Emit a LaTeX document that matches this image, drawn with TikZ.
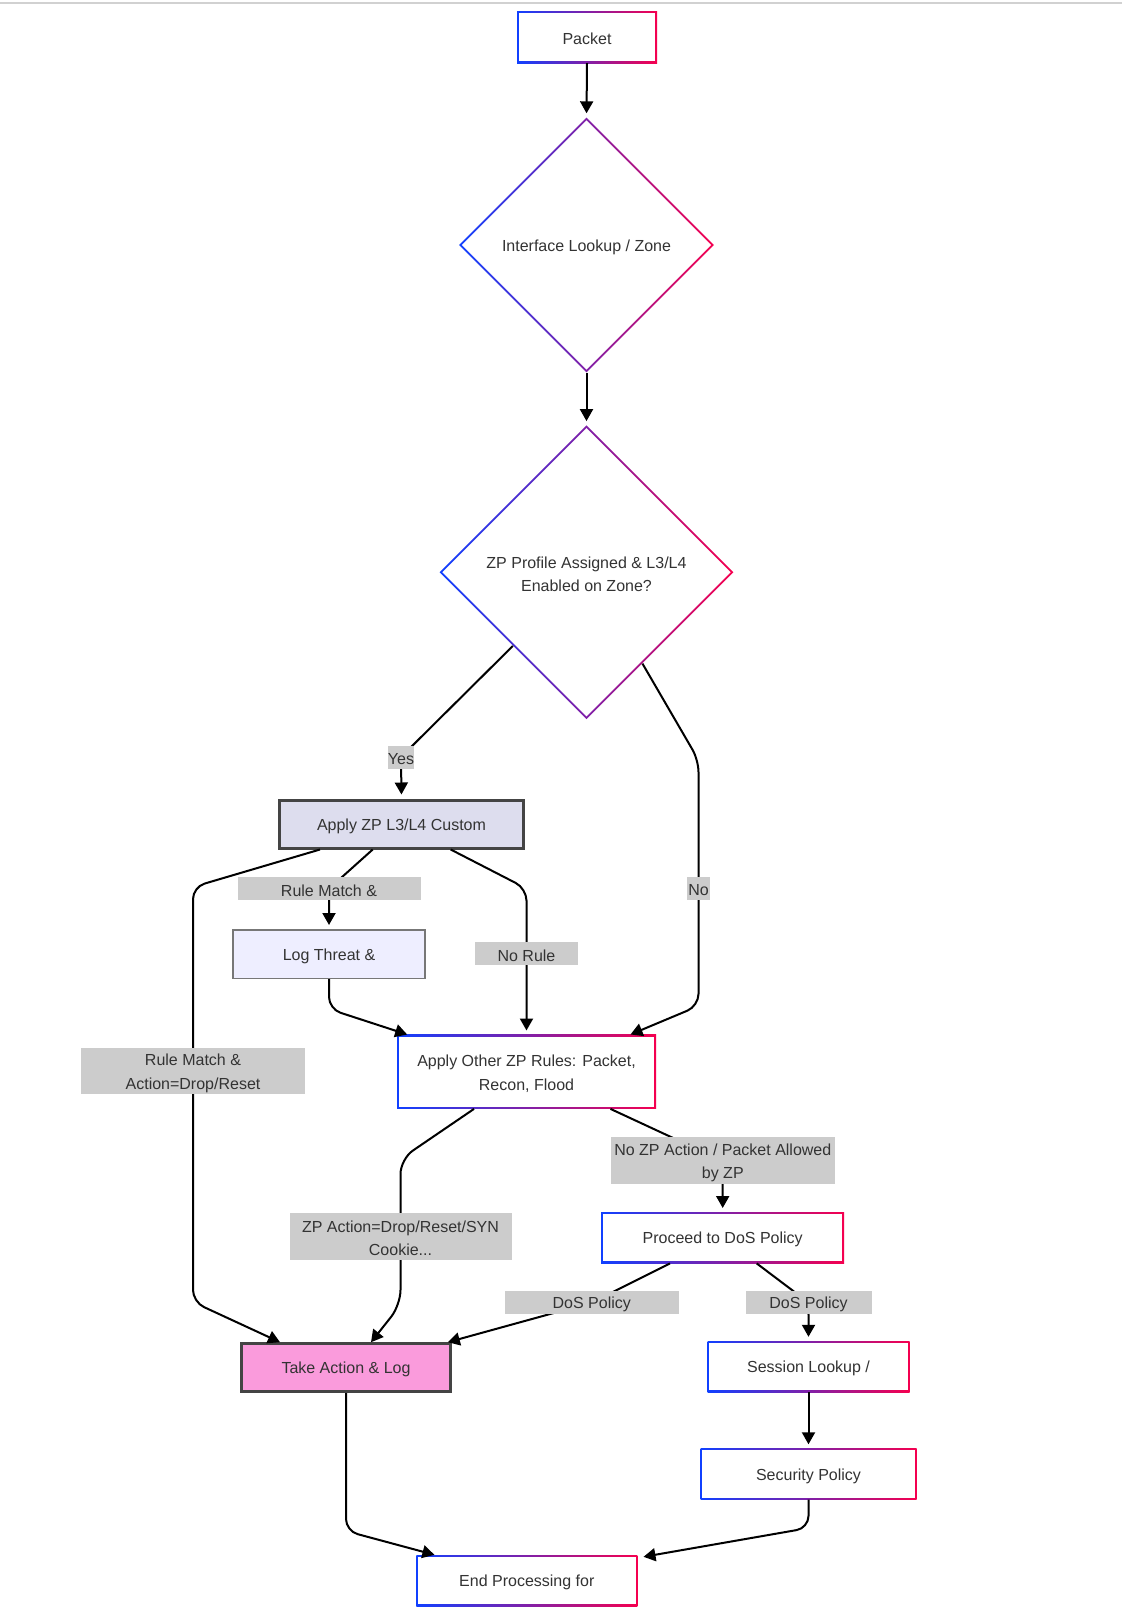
\documentclass[tikz,border=0pt]{standalone}
\usepackage{fontspec}
\setmainfont{Liberation Sans}
\usetikzlibrary{shapes.geometric,arrows.meta,calc}
\definecolor{gL}{HTML}{1040FF}
\definecolor{gM}{HTML}{8020A8}
\definecolor{gR}{HTML}{F5004F}
\definecolor{txt}{HTML}{333333}
\definecolor{lblgray}{HTML}{CCCCCC}
\definecolor{azfill}{HTML}{DDDDEE}
\definecolor{ltfill}{HTML}{EEEEFF}
\definecolor{tafill}{HTML}{FA9BDC}
\definecolor{darkborder}{HTML}{444444}
\definecolor{ltborder}{HTML}{777777}
\newcommand\nodetext[2]{\node[yshift=-2pt] at (#1) {#2};}
\newcommand\gradbox[6]{%
  \node[gshade, minimum width=#4pt, minimum height=#5pt] (#1) at (#2,#3) {};
  \fill[white] ([shift={(2pt,-2pt)}]#1.north west) rectangle ([shift={(-2pt,2pt)}]#1.south east);
  \nodetext{#1}{#6}
}
\newcommand\graddiamond[6]{%
  \node[diamond, gshade, minimum width=#4pt, minimum height=#4pt] (#1) at (#2,#3) {};
  \node[diamond, fill=white, minimum width=#5pt, minimum height=#5pt] at (#1) {};
  \nodetext{#1}{#6}
}
\newcommand\edgelabel[6]{%
  \node[lbl, minimum width=#4pt, minimum height=#5pt] (#1) at (#2,#3) {};
  \nodetext{#1}{#6}
}
\begin{document}
\begin{tikzpicture}[x=1pt,y=-1pt,
  every node/.style={font=\fontsize{16}{23.7}\selectfont, text=txt, align=center, inner sep=0pt},
  gshade/.style={shade, left color=gL, right color=gR, middle color=gM},
  lbl/.style={fill=lblgray, font=\fontsize{16}{22.5}\selectfont},
  conn/.style={draw=black, line width=2pt, -{Triangle[length=12pt,width=13pt]}, rounded corners=12pt},
]
\useasboundingbox (0,0) rectangle (1122,1615);
\fill[white] (0,0) rectangle (1122,1615);
\draw[line width=2pt, color=black!18] (0,2.5) -- (1122,2.5);

% gradient-bordered nodes
\gradbox{packet}{587}{37}{140}{52}{Packet}
\graddiamond{d1}{586.5}{245}{255}{249.3}{Interface Lookup / Zone}
\graddiamond{d2}{586.5}{572.3}{294}{288.3}{ZP Profile Assigned \& L3/L4\\Enabled on Zone?}
\gradbox{ao}{526.5}{1071.7}{259}{74}{Apply Other ZP Rules: Packet,\\Recon, Flood}
\gradbox{pr}{722.7}{1237.7}{243}{51}{Proceed to DoS Policy}
\gradbox{sl}{808.5}{1366.5}{202}{51}{Session Lookup /}
\gradbox{sp}{808.5}{1474}{216}{51}{Security Policy}
\gradbox{en}{526.8}{1580.5}{221}{51}{End Processing for}

% filled nodes
\node[draw=darkborder, line width=3pt, fill=azfill, minimum width=244pt, minimum height=48pt] (az) at (401.5,824) {};
\nodetext{az}{Apply ZP L3/L4 Custom}
\node[draw=ltborder, line width=1.5pt, fill=ltfill, minimum width=192pt, minimum height=48.5pt] (lt) at (329,954) {};
\nodetext{lt}{Log Threat \&}
\node[draw=darkborder, line width=3pt, fill=tafill, minimum width=209pt, minimum height=48pt] (ta) at (346,1367.7) {};
\nodetext{ta}{Take Action \& Log}

% connectors
\draw[conn, shorten >=4pt] (packet.south) -- (d1.north);
\draw[conn, shorten >=4pt] (d1.south) -- (d2.north);
\draw[conn, shorten >=4pt] (d2.south west) -- (401,757) -- (az.north);
\draw[conn] ($(d2.south)!0.38!(d2.east)$) -- (698.5,760) -- (698.5,1006) -- ([xshift=104pt]ao.north);
\draw[conn] ([xshift=-81.5pt]az.south) -- (193,887) -- (193,1302) -- ([xshift=-66pt]ta.north);
\draw[conn, shorten >=4pt] ([xshift=-28.8pt]az.south) -- (329,888.7) -- (lt.north);
\draw[conn, shorten >=4pt] ([xshift=49.2pt]az.south) -- (526.5,888.5) -- (ao.north);
\draw[conn] (lt.south) -- (329,1009) -- ([xshift=-119.3pt]ao.north);
\draw[conn, rounded corners=15pt] ([xshift=-52.5pt]ao.south) -- (400.5,1159) -- (400.5,1305) -- ([xshift=25pt]ta.north);
\draw[conn, shorten >=4pt] ([xshift=84pt]ao.south) -- (722.7,1161) -- (pr.north);
\draw[conn] ([xshift=-52.7pt]pr.south) -- (591.8,1302.5) -- ([xshift=101.8pt]ta.north);
\draw[conn, shorten >=4pt] ([xshift=34pt]pr.south) -- (808.5,1302.5) -- (sl.north);
\draw[conn, shorten >=4pt] (sl.south) -- (sp.north);
\draw[conn] (ta.south) -- (346,1531) -- ([xshift=-92.4pt]en.north);
\draw[conn] (sp.south) -- (808.5,1528) -- ([xshift=6pt,yshift=-2pt]en.north east);

% edge labels
\edgelabel{lyes}{401}{757.5}{26}{22.5}{Yes}
\edgelabel{lno}{698.5}{888.5}{23.5}{23}{No}
\edgelabel{lrm}{329}{888.7}{183}{23}{Rule Match \&}
\edgelabel{lnr}{526.5}{953.7}{103}{23}{No Rule}
\edgelabel{lrmd}{193}{1071}{224}{46}{Rule Match \&\\Action=Drop/Reset}
\edgelabel{lzpa}{400.5}{1236.4}{222}{47}{ZP Action=Drop/Reset/SYN\\Cookie...}
\edgelabel{lnza}{722.8}{1160.8}{224}{47}{No ZP Action / Packet Allowed\\by ZP}
\edgelabel{ldl}{591.8}{1302.5}{174}{23}{DoS Policy}
\edgelabel{ldr}{808.5}{1302.3}{126}{23}{DoS Policy}
\end{tikzpicture}
\end{document}
